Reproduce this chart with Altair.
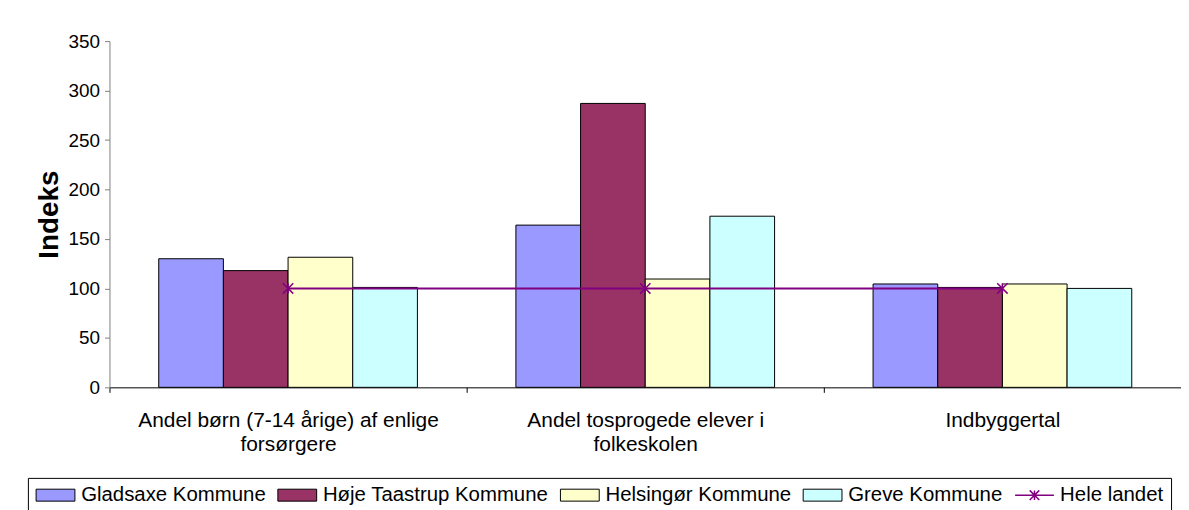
import json
import altair as alt
import pandas as pd

# ---- data ----
CATEGORIES = [
    "Andel børn (7-14 årige) af enlige forsørgere",
    "Andel tosprogede elever i folkeskolen",
    "Indbyggertal",
]
CATEGORY_LINES = [
    ["Andel børn (7-14 årige) af enlige", "forsørgere"],
    ["Andel tosprogede elever i", "folkeskolen"],
    ["Indbyggertal"],
]
SERIES = ["Gladsaxe Kommune", "Høje Taastrup Kommune", "Helsingør Kommune", "Greve Kommune"]
GLADSAXE = [130, 164, 104.5]
HOJE_TAASTRUP = [118, 287, 101]
HELSINGOR = [131.5, 109.5, 104.5]
GREVE = [101, 173, 100]
NATIONAL_NAME = "Hele landet"
NATIONAL = [100, 100, 100]
BAR_COLORS = ["#9999FF", "#993366", "#FFFFCC", "#CCFFFF"]
NATIONAL_COLOR = "#800080"
Y_TICKS = [0, 50, 100, 150, 200, 250, 300, 350]

FONT = "Liberation Sans"
STAR = "M-1,-1L1,1M-1,1L1,-1M0,-1V1"
RECT_SYMBOL = "M-1.5,-1H5V1H-1.5Z"
LINE_SYMBOL = "M-1.5,0H5M0.95,-0.8L2.55,0.8M0.95,0.8L2.55,-0.8M1.75,-0.8V0.8"

rows = []
for name, vals in zip(SERIES, [GLADSAXE, HOJE_TAASTRUP, HELSINGOR, GREVE]):
    for cat, v in zip(CATEGORIES, vals):
        rows.append({"category": cat, "series": name, "value": v})
bar_df = pd.DataFrame(rows)
line_df = pd.DataFrame({"category": CATEGORIES, "series": NATIONAL_NAME, "value": NATIONAL})

# label expression splitting categories in lines (empty for the extra boundary tick)
expr = "''"
for cat, lines in reversed(list(zip(CATEGORIES, CATEGORY_LINES))):
    expr = f"datum.label == {json.dumps(cat, ensure_ascii=False)} ? {json.dumps(lines, ensure_ascii=False)} : ({expr})"

# legend entry for the national line has a transparent fill (line symbol only)
color_scale = alt.Scale(domain=SERIES + [NATIONAL_NAME], range=BAR_COLORS + ["transparent"])

x_enc = alt.X(
    "category:N",
    sort=CATEGORIES,
    title=None,
    scale=alt.Scale(paddingInner=0, paddingOuter=0),
    axis=alt.Axis(
        labelAngle=0, labelFont=FONT, labelFontSize=21, labelColor="black",
        labelLineHeight=24, labelPadding=17, labelLimit=1000, labelExpr=expr,
        tickBand="extent", tickSize=5, tickColor="black", domainColor="black",
        grid=False,
    ),
)
y_enc = alt.Y(
    "value:Q",
    scale=alt.Scale(domain=[0, 350], nice=False),
    axis=alt.Axis(
        values=Y_TICKS, title="Indeks", titleFont=FONT, titleFontSize=28,
        titleFontWeight="bold", titleColor="black", titlePadding=5,
        labelFont=FONT, labelFontSize=19, labelColor="black", labelPadding=5,
        tickSize=5, tickColor="#808080", domainColor="#808080", grid=False,
    ),
)

is_nat = f"datum.value === '{NATIONAL_NAME}'"
legend = alt.Legend(
    title=None, orient="none", legendX=-82, legendY=439, direction="horizontal",
    strokeColor="black", fillColor="white", padding=7,
    labelFont=FONT, labelFontSize=20.5, labelColor="black", labelLimit=500,
    symbolSize=144, labelOffset=26, columnPadding=9, symbolOpacity=1,
    symbolType={"expr": f"{is_nat} ? '{LINE_SYMBOL}' : '{RECT_SYMBOL}'"},
    symbolStrokeColor={"expr": f"{is_nat} ? '{NATIONAL_COLOR}' : 'black'"},
    symbolStrokeWidth={"expr": f"{is_nat} ? 1.5 : 1"},
)

bars = alt.Chart(bar_df).mark_bar(stroke="black", strokeWidth=1).encode(
    x=x_enc,
    xOffset=alt.XOffset("series:N", sort=SERIES,
                        scale=alt.Scale(paddingInner=0, paddingOuter=0.7615)),
    y=y_enc,
    color=alt.Color("series:N", scale=color_scale, legend=legend),
)

line = alt.Chart(line_df).mark_line(strokeWidth=2, color=NATIONAL_COLOR).encode(
    x=x_enc, y=y_enc,
)
points = alt.Chart(line_df).mark_point(shape=STAR, size=110, filled=False, color=NATIONAL_COLOR,
                                       strokeWidth=1.5, opacity=1).encode(
    x=x_enc, y=y_enc,
)

chart = alt.layer(bars, line, points).properties(
    width=1077, height=348,
    autosize=alt.AutoSizeParams(type="none"),
    padding={"left": 102, "top": 32, "right": 0, "bottom": 122},
    background="white",
).configure_view(strokeWidth=0)

chart.save("out.html", embed_options={"renderer": "svg", "actions": False})
